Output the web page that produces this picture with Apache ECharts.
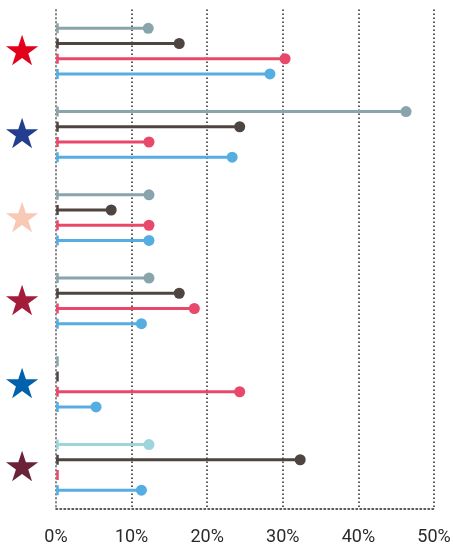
<!DOCTYPE html>
<html><head><meta charset="utf-8">
<script src="https://cdn.jsdelivr.net/npm/echarts@6/dist/echarts.min.js"></script>
<style>html,body{margin:0;padding:0;background:#fff}#c{width:453px;height:544px}</style>
</head><body><div id="c"></div>
<script>
const groups = ['g1', 'g2', 'g3', 'g4', 'g5', 'g6'];
const starColors = ['#e3001b', '#243e8f', '#f8c9b5', '#a51c3a', '#0062ad', '#6b2239'];
const seriesNames = ['A', 'B', 'C', 'D'];
const seriesColors = ['#8aa4ab', '#4f4540', '#e8496a', '#56ade2'];
const valuesA = [12.2, 46.3, 12.3, 12.3, 0, 12.3];
const valuesB = [16.3, 24.3, 7.3, 16.3, 0, 32.3];
const valuesC = [30.3, 12.3, 12.3, 18.3, 24.3, 0];
const valuesD = [28.3, 23.3, 12.3, 11.3, 5.3, 11.3];
const allValues = [valuesA, valuesB, valuesC, valuesD];
const specialColor = {s: 0, g: 5, color: '#9dd5dc'};
const xTicks = [0, 10, 20, 30, 40, 50];

const chart = echarts.init(document.getElementById('c'));

function makeRender(s) {
  return function (params, api) {
    const v = api.value(0), g = api.value(1);
    const start = api.coord([0, g]);
    const end = api.coord([v, g]);
    const band = api.size([0, 1])[1];
    const y = start[1] + (s - 1.5) * band * 0.183;
    const color = api.visual('color');
    const children = [
      {type: 'line', shape: {x1: start[0], y1: y, x2: end[0], y2: y}, style: {stroke: color, lineWidth: 3}},
      {type: 'line', shape: {x1: start[0] + 1.5, y1: y - 5, x2: start[0] + 1.5, y2: y + 5}, style: {stroke: color, lineWidth: 2.5}}
    ];
    if (v > 0) children.push({type: 'circle', shape: {cx: end[0], cy: y, r: 5.5}, style: {fill: color}});
    return {type: 'group', children: children};
  };
}

const rich = {};
starColors.forEach((c, i) => { rich['s' + i] = {color: c, fontSize: 42, fontFamily: 'DejaVu Sans', lineHeight: 44, padding: [6, 0, 0, 0]}; });

chart.setOption({
  animation: false,
  grid: {left: 56, right: 19, top: 9.5, bottom: 35, containLabel: false, outerBoundsMode: 'none'},
  xAxis: {
    type: 'value', min: 0, max: 50, interval: 10,
    axisLine: {show: true, lineStyle: {color: '#222', type: [1.5, 2.5], width: 1.5}},
    axisTick: {show: false},
    splitLine: {show: true, lineStyle: {color: '#222', type: [1.5, 2.5], width: 1.5}},
    axisLabel: {formatter: v => v + '%', color: '#2a2a2a', fontSize: 18, fontFamily: 'Roboto', margin: 19}
  },
  yAxis: {
    type: 'category', data: groups, inverse: true,
    axisLine: {show: true, lineStyle: {color: '#999', type: [1.5, 2.5], width: 1.5}},
    axisTick: {show: false},
    splitLine: {show: false},
    axisLabel: {margin: 15, formatter: (val, i) => '{s' + i + '|★}', rich: rich}
  },
  series: seriesNames.map((n, s) => ({
    type: 'custom', name: n,
    renderItem: makeRender(s),
    encode: {x: 0, y: 1},
    itemStyle: {color: seriesColors[s]},
    data: allValues[s].map((v, g) => {
      const d = {value: [v, g]};
      if (specialColor.s === s && specialColor.g === g) d.itemStyle = {color: specialColor.color};
      return d;
    })
  }))
});
</script></body></html>
